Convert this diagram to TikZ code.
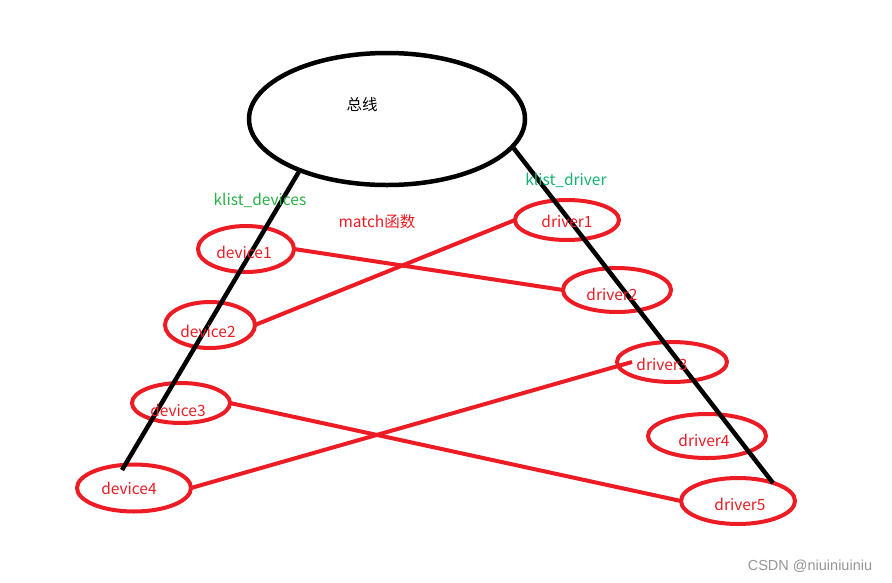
\documentclass[tikz,border=0pt]{standalone}
\usepackage{fontspec}
\setmainfont{Noto Sans CJK SC}
\newfontfamily\wmfont{Liberation Sans}
\usetikzlibrary{shapes.geometric}
\definecolor{pred}{RGB}{237,28,36}
\definecolor{pgreen}{RGB}{40,176,70}
\definecolor{pteal}{RGB}{20,178,115}
\definecolor{wmgray}{RGB}{150,150,150}
\tikzset{
  bus/.style={draw=black, line width=4.5pt, ellipse, inner sep=0pt, minimum width=276pt, minimum height=132pt},
  item/.style={draw=pred, line width=4pt, ellipse, inner sep=0pt, outer sep=0pt},
  link/.style={draw=pred, line width=4pt},
  spine/.style={draw=black, line width=4.5pt},
  lbl/.style={text=pred, font=\fontsize{15.5}{17}\selectfont, inner sep=0pt},
  glbl/.style={font=\fontsize{15.5}{17}\selectfont, inner sep=0pt},
}
\begin{document}
\begin{tikzpicture}[x=1pt, y=-1pt]
\useasboundingbox[fill=white] (0,0) rectangle (892,582);
% bus
\node[bus] (bus) at (387,119) {};
\node[glbl, text=black] (buslbl) at (362,105) {总线};
% device ellipses
\node[item, minimum width=96pt, minimum height=46pt] (dev1) at (246,249) {};
\node[item, minimum width=90pt, minimum height=46pt] (dev2) at (210,325) {};
\node[item, minimum width=98pt, minimum height=40pt] (dev3) at (181,403) {};
\node[item, minimum width=114pt, minimum height=47pt] (dev4) at (134,488) {};
% driver ellipses
\node[item, minimum width=104pt, minimum height=40pt] (drv1) at (567,220) {};
\node[item, minimum width=108pt, minimum height=44pt] (drv2) at (617,290) {};
\node[item, minimum width=110pt, minimum height=40pt] (drv3) at (672,362) {};
\node[item, minimum width=118pt, minimum height=44pt] (drv4) at (707,436) {};
\node[item, minimum width=114pt, minimum height=46pt] (drv5) at (738,501) {};
% spines
\coordinate (lend) at (122,470);
\coordinate (rend) at (773,483);
\draw[spine] (bus.211) -- (lend);
\draw[spine] (bus.347.5) -- (rend);
% match links
\draw[link] (dev1.east) -- (drv2.west);
\draw[link] (dev2.east) -- (drv1.west);
\draw[link] (dev3.east) -- (drv5.west);
\draw[link] (dev4.east) -- ([xshift=15pt]drv3.west);
% labels
\node[glbl, text=pgreen] (kdev) at (260,200) {klist\_devices};
\node[glbl, text=pteal] (kdrv) at (566,180) {klist\_driver};
\node[lbl] (match) at (377,222) {match函数};
\node[lbl] (t1) at (244,252) {device1};
\node[lbl] (t2) at (208,331) {device2};
\node[lbl] (t3) at (178,410) {device3};
\node[lbl] (t4) at (129,488) {device4};
\node[lbl] (r1) at (567,221) {driver1};
\node[lbl] (r2) at (612,294) {driver2};
\node[lbl] (r3) at (662,364) {driver3};
\node[lbl] (r4) at (704,440) {driver4};
\node[lbl] (r5) at (740,504) {driver5};
\node[text=wmgray, font=\wmfont\fontsize{14.5}{16}\selectfont, inner sep=0pt] (wm) at (810,566) {CSDN @niuiniuiniu};
\end{tikzpicture}
\end{document}
